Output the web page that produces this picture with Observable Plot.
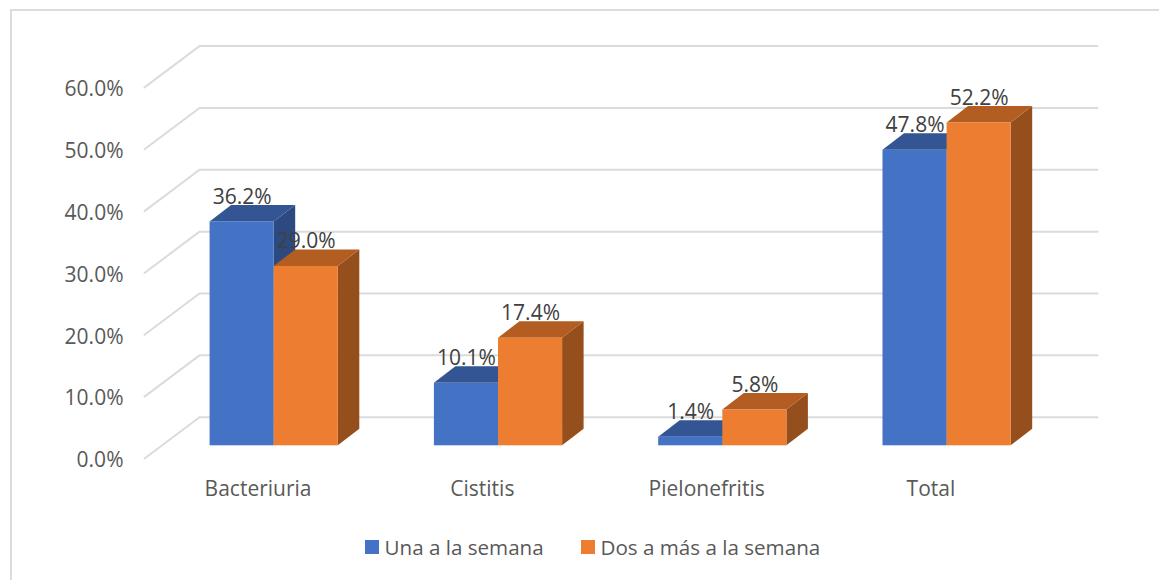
<!DOCTYPE html>
<html>
<head>
<meta charset="utf-8">
<script src="https://cdn.jsdelivr.net/npm/d3@7"></script>
<script src="https://cdn.jsdelivr.net/npm/@observablehq/plot@0.6"></script>
<style>
  html, body { margin: 0; padding: 0; background: #fff; width: 1159px; height: 580px; overflow: hidden; }
  body { position: relative; font-family: "Open Sans", sans-serif; }
  #frame { position: absolute; left: 10px; top: 9px; width: 1200px; height: 600px; border-left: 2px solid #dcdcdc; border-top: 2px solid #dcdcdc; }
  #chart { position: absolute; left: 0; top: 0; }
  #chart svg { display: block; background: transparent; }
  #legend { position: absolute; left: 0; top: 525px; width: 1159px; height: 55px; color: #595959; font-size: 20.6px; }
  .sw { position: absolute; top: 15px; width: 14px; height: 14px; }
  .lb { position: absolute; top: 8px; line-height: 28px; white-space: nowrap; }
</style>
</head>
<body>
<div id="frame"></div>
<div id="chart"></div>
<div id="legend">
  <span class="sw" style="left:365px;background:#4472C4"></span><span class="lb" style="left:384.5px">Una a la semana</span>
  <span class="sw" style="left:581px;background:#ED7D31"></span><span class="lb" style="left:600.5px">Dos a más a la semana</span>
</div>
<script>
const categories = ["Bacteriuria", "Cistitis", "Pielonefritis", "Total"];
const unaSemana = [36.2, 10.1, 1.4, 47.8];
const dosSemana = [29.0, 17.4, 5.8, 52.2];
const yTicks = [0, 10, 20, 30, 40, 50, 60];

// Scale layout: one x unit = one category slot, one y unit = one percentage point
const W = 1159, H = 525, slot = 224.3, centre0 = 273.7, base = 445.3, perPoint = 6.185;
const u = px => (px - centre0) / slot;
const barW = 64.1 / slot;            // width of each bar
const depthX = 21.5 / slot;          // oblique depth of a bar
const depthY = 16.5 / perPoint;
const wallFrontX = u(144), wallBackX = u(199), wallEndX = u(1097);
const wallFrontY = -12.7 / perPoint, wallBackY = 28.6 / perPoint;
const fontSize = 21;

const series = [
  {values: unaSemana, offset: -1, front: "#4472C4", top: "#345593", side: "#2C4A80"},
  {values: dosSemana, offset: 0,  front: "#ED7D31", top: "#B35D22", side: "#954F1C"}
];

const gridPts = yTicks.flatMap(t => [
  {t, x: wallFrontX, y: t + wallFrontY},
  {t, x: wallBackX,  y: t + wallBackY},
  {t, x: wallEndX,   y: t + wallBackY}
]);

const barMarks = series.flatMap(s => {
  const bars = s.values.map((v, i) => ({
    i, v, x1: i + s.offset * barW, x2: i + (s.offset + 1) * barW
  }));
  const side = bars.flatMap(b => [
    {i: b.i, x: b.x2, y1: 0, y2: b.v},
    {i: b.i, x: b.x2 + depthX, y1: depthY, y2: b.v + depthY}
  ]);
  const top = bars.flatMap(b => [
    {i: b.i, y: b.v, x1: b.x1, x2: b.x2},
    {i: b.i, y: b.v + depthY, x1: b.x1 + depthX, x2: b.x2 + depthX}
  ]);
  return [
    Plot.areaY(side, {x: "x", y1: "y1", y2: "y2", z: "i", fill: s.side}),
    Plot.areaX(top, {y: "y", x1: "x1", x2: "x2", z: "i", fill: s.top}),
    Plot.rect(bars, {x1: "x1", x2: "x2", y1: 0, y2: "v", fill: s.front})
  ];
});

const labelMarks = series.map(s => Plot.text(s.values, {
  x: (v, i) => i + (s.offset + 0.5) * barW,
  y: v => v + 25 / perPoint,
  text: v => v.toFixed(1) + "%",
  fill: "#404040",
  fontSize,
  textAnchor: "middle"
}));

const chart = Plot.plot({
  width: W,
  height: H,
  margin: 0,
  style: {fontFamily: '"Open Sans", sans-serif', background: "transparent"},
  x: {type: "linear", domain: [u(0), u(W)], range: [0, W], axis: null},
  y: {type: "linear", domain: [base / perPoint, (base - H) / perPoint], range: [0, H], axis: null},
  marks: [
    Plot.line(gridPts, {x: "x", y: "y", z: "t", stroke: "#DBDBDB", strokeWidth: 2, strokeLinejoin: "miter"}),
    ...barMarks,
    Plot.text(yTicks, {
      x: u(123),
      y: t => t + wallFrontY,
      text: t => t.toFixed(1) + "%",
      textAnchor: "end",
      fill: "#595959",
      fontSize,
      dy: 2
    }),
    Plot.text(categories, {
      x: (c, i) => i - 0.072,
      y: -43.7 / perPoint,
      text: c => c,
      textAnchor: "middle",
      fill: "#595959",
      fontSize
    }),
    ...labelMarks
  ]
});
document.getElementById("chart").appendChild(chart);
</script>
</body>
</html>
